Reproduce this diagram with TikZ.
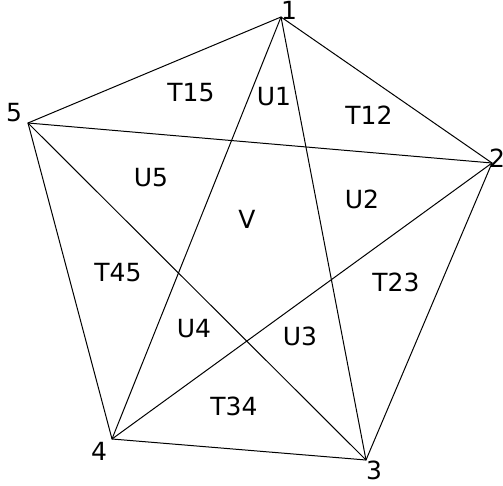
\documentclass[tikz,border=0pt]{standalone}
\usepackage{fontspec}
\setmainfont{DejaVu Sans}
\begin{document}
\begin{tikzpicture}[x=1pt,y=-1pt,
  edge/.style={draw=black,line width=1pt},
  lbl/.style={font=\fontsize{25}{27}\selectfont,inner sep=0pt,anchor=center},
  vtx/.style={inner sep=0pt,minimum size=0pt}]
\useasboundingbox (0,0) rectangle (503,486);
\fill[white] (0,0) rectangle (503,486);
\node[vtx] (v1) at (281,17) {};
\node[vtx] (v2) at (492,163) {};
\node[vtx] (v3) at (366,460) {};
\node[vtx] (v4) at (112,439) {};
\node[vtx] (v5) at (28,123) {};
\draw[edge] (v1.center) -- (v2.center) -- (v3.center) -- (v4.center) -- (v5.center) -- cycle;
\draw[edge] (v1.center) -- (v3.center);
\draw[edge] (v1.center) -- (v4.center);
\draw[edge] (v2.center) -- (v4.center);
\draw[edge] (v2.center) -- (v5.center);
\draw[edge] (v3.center) -- (v5.center);
\node[lbl] (n1) at (289,10) {1};
\node[lbl] (n2) at (497,158) {2};
\node[lbl] (n3) at (374,470) {3};
\node[lbl] (n4) at (99,451) {4};
\node[lbl] (n5) at (14,113) {5};
\node[lbl] (t15) at (191,93) {T15};
\node[lbl] (u1) at (274,97) {U1};
\node[lbl] (t12) at (369,115) {T12};
\node[lbl] (u5) at (151,178) {U5};
\node[lbl] (u2) at (362,199) {U2};
\node[lbl] (vv) at (247,219) {V};
\node[lbl] (t45) at (118,273) {T45};
\node[lbl] (t23) at (396,282) {T23};
\node[lbl] (u4) at (194,329) {U4};
\node[lbl] (u3) at (300,336) {U3};
\node[lbl] (t34) at (234,406) {T34};
\end{tikzpicture}
\end{document}
